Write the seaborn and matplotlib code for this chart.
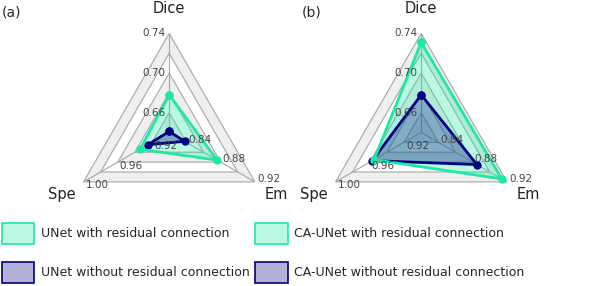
import numpy as np
import pandas as pd
import matplotlib
matplotlib.use("Agg")
import matplotlib.pyplot as plt
import matplotlib.patches as mpatches
import seaborn as sns

# metrics and their radial scales (value at centre, step per ring)
metrics = ["Dice", "Em", "Spe"]
angles_deg = [90, 330, 210]
base = [0.64, 0.82, 0.90]
step = 0.02
n_rings = 5
tick_rings = [1, 3, 5]
dice_ticks = ["0.66", "0.70", "0.74"]
em_ticks = ["0.84", "0.88", "0.92"]
spe_ticks = ["0.92", "0.96", "1.00"]

# scores
unet_res = [0.678, 0.876, 0.934]
unet_nores = [0.641, 0.838, 0.925]
ca_res = [0.731, 0.914, 0.955]
ca_nores = [0.678, 0.885, 0.957]

green = "#1ee8a4"
navy = "#000080"


def to_frame(values):
    theta = np.deg2rad(angles_deg + [angles_deg[0] + 360])
    r = [(v - b) / step for v, b in zip(values, base)]
    r = r + [r[0]]
    return pd.DataFrame({"theta": theta, "r": r})


def draw_grid(ax):
    theta = np.deg2rad(angles_deg + [angles_deg[0]])
    for k in range(n_rings, 0, -1):
        face = "#efefef" if (n_rings - k) % 2 == 0 else "white"
        ax.fill(theta, [k] * 4, facecolor=face, edgecolor="#a6a6a6", lw=0.8, zorder=1)
    for a in angles_deg:
        ax.plot([np.deg2rad(a)] * 2, [0, n_rings], color="#a6a6a6", lw=0.8, zorder=1)
    tick_sets = [dice_ticks, em_ticks, spe_ticks]
    offsets = [((-3, 0), "right", "center"), ((1.5, 2), "left", "center"), ((1.5, -2.5), "left", "center")]
    for a, labels, (off, ha, va) in zip(angles_deg, tick_sets, offsets):
        for k, lab in zip(tick_rings, labels):
            ax.annotate(lab, (np.deg2rad(a), k), xytext=off, textcoords="offset points",
                        ha=ha, va=va, fontsize=7.5, color="#444444", zorder=10)
    for a, name in zip(angles_deg, metrics):
        ax.text(np.deg2rad(a), 6.25, name, ha="center", va="center", fontsize=10.5, color="#222222")


def draw_series(ax, values, color, z):
    df = to_frame(values)
    ax.fill(df.theta, df.r, color=color, alpha=0.3, lw=0, zorder=z)
    return df


def draw_outline(ax, df, color, z):
    sns.lineplot(data=df, x="theta", y="r", sort=False, estimator=None, ax=ax,
                 color=color, lw=2, marker="o", markersize=6, markeredgewidth=0, zorder=z)


sns.set_theme(style="white")
plt.rcParams["font.family"] = ["DejaVu Sans"]

fig = plt.figure(figsize=(6.0, 2.86), dpi=100)
panels = [
    (0.117, "(a)", 0.003, unet_res, unet_nores),
    (0.537, "(b)", 0.503, ca_res, ca_nores),
]
for left, tag, tag_x, res, nores in panels:
    ax = fig.add_axes([left, 0.191, 0.33, 0.692], projection="polar")
    ax.set_facecolor("none")
    ax.grid(False)
    ax.spines["polar"].set_visible(False)
    ax.set_ylim(0, n_rings)
    draw_grid(ax)
    df_res = draw_series(ax, res, green, 3)
    df_nores = draw_series(ax, nores, navy, 4)
    draw_outline(ax, df_nores, navy, 5)
    draw_outline(ax, df_res, green, 6)
    ax.set_xticks([])
    ax.set_yticks([])
    ax.set_xlabel("")
    ax.set_ylabel("")
    fig.text(tag_x, 0.955, tag, fontsize=10, ha="left", va="center")

legend_x = [0.003, 0.425]
for lx, name in zip(legend_x, ["UNet", "CA-UNet"]):
    handles = [
        mpatches.Patch(facecolor=matplotlib.colors.to_rgba(green, 0.3), edgecolor=green, lw=1.2),
        mpatches.Patch(facecolor=matplotlib.colors.to_rgba(navy, 0.3), edgecolor=navy, lw=1.2),
    ]
    labels = [f"{name} with residual connection", f"{name} without residual connection"]
    fig.legend(handles, labels, loc="upper left", bbox_to_anchor=(lx, 0.221),
               frameon=False, fontsize=9, borderpad=0, borderaxespad=0,
               handlelength=2.6, handleheight=2.21, handletextpad=0.55, labelspacing=1.44)

fig.savefig("out.png", dpi=100)
